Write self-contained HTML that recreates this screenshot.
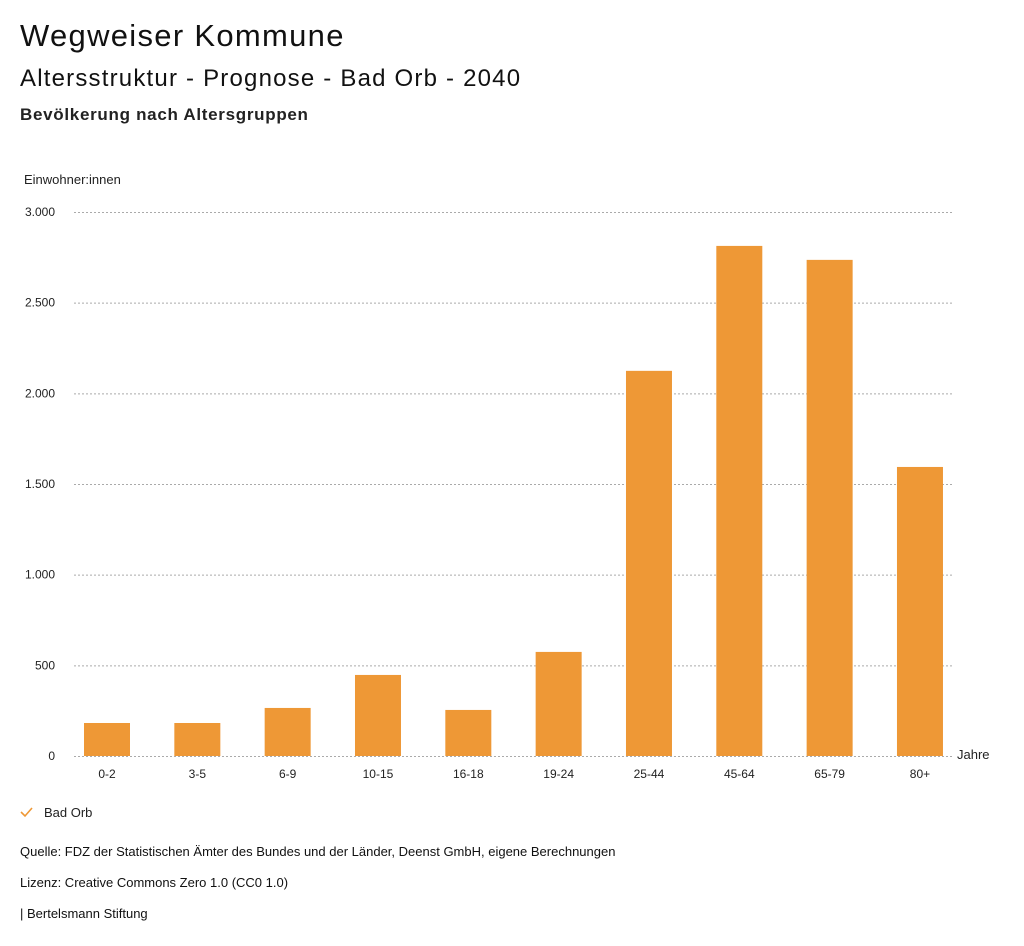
<!DOCTYPE html>
<html><head><meta charset="utf-8"><style>
body{margin:0;background:#fff;width:1024px;height:946px;overflow:hidden;font-family:"Liberation Sans",sans-serif;color:#111}
.t{position:absolute;white-space:nowrap}
</style></head><body>
<div class="t" style="left:20px;top:18px;font-size:31px;letter-spacing:1.3px">Wegweiser Kommune</div>
<div class="t" style="left:20px;top:65px;font-size:24px;letter-spacing:1.2px">Altersstruktur - Prognose - Bad Orb - 2040</div>
<div class="t" style="left:20px;top:105px;font-size:17px;font-weight:bold;letter-spacing:0.7px;color:#222">Bevölkerung nach Altersgruppen</div>
<svg id="chart" width="1024" height="946" style="position:absolute;left:0;top:0"></svg>
<div class="t" style="left:20px;top:844px;font-size:13px">Quelle: FDZ der Statistischen Ämter des Bundes und der Länder, Deenst GmbH, eigene Berechnungen</div>
<div class="t" style="left:20px;top:875px;font-size:13px">Lizenz: Creative Commons Zero 1.0 (CC0 1.0)</div>
<div class="t" style="left:20px;top:906px;font-size:13px">| Bertelsmann Stiftung</div>
<script>
const categories=["0-2","3-5","6-9","10-15","16-18","19-24","25-44","45-64","65-79","80+"];
const values=[182,182,265,447,254,574,2124,2813,2736,1594];
const yTicks=[0,500,1000,1500,2000,2500,3000];
const yTickLabels=["0","500","1.000","1.500","2.000","2.500","3.000"];
const NS="http://www.w3.org/2000/svg";
const svg=document.getElementById('chart');
const y0=756,yTop=212,yMax=3000;
const y=v=>y0-(v/yMax)*(y0-yTop);
const x=i=>107+i*90.33;
function mk(tag,attrs,parent){const e=document.createElementNS(NS,tag);for(const k in attrs)e.setAttribute(k,attrs[k]);(parent||svg).appendChild(e);return e;}
const t0=mk('text',{x:24,y:184,'font-size':13,fill:'#222'});t0.textContent='Einwohner:innen';


yTicks.forEach((v,i)=>{
  const l=mk('line',{x1:74,x2:953,y1:y(v)+0.5,y2:y(v)+0.5,stroke:'#aaa','stroke-dasharray':'2,2'});
  
  
  const t=mk('text',{x:55,y:y(v)+4,'font-size':12,fill:'#222','text-anchor':'end'});t.textContent=yTickLabels[i];
  
  
});
categories.forEach((c,i)=>{
  const r=mk('rect',{x:x(i)-23,y:y(values[i]),width:46,height:y0-y(values[i]),fill:'#ee9836'});
  
  
  const t=mk('text',{x:x(i),y:778,'font-size':12,fill:'#222','text-anchor':'middle'});t.textContent=c;
  
  
});
const xt=mk('text',{x:957,y:759,'font-size':13,fill:'#222'});xt.textContent='Jahre';


const g=mk('g',{});


mk('path',{d:'M21 812 L25 816 L32 808',stroke:'#ee9836','stroke-width':1.6,fill:'none'},g);
const lt=mk('text',{x:44,y:817,'font-size':13,fill:'#222'},g);lt.textContent='Bad Orb';
</script>
</body></html>
